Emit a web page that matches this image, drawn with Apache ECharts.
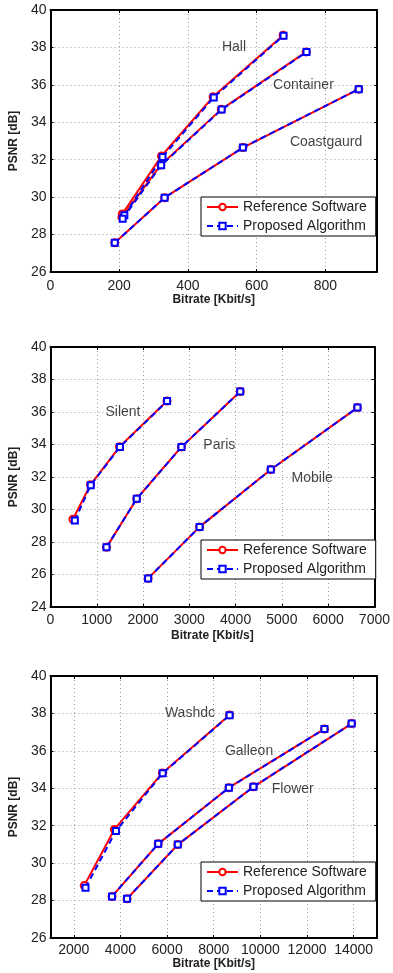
<!DOCTYPE html>
<html>
<head>
<meta charset="utf-8">
<title>PSNR vs Bitrate</title>
<script src="https://cdn.jsdelivr.net/npm/echarts@6.0.0/dist/echarts.min.js"></script>
<style>
  html, body { margin: 0; padding: 0; background: #fff; }
  #chart { width: 393px; height: 973px; }
</style>
</head>
<body>
<div id="chart"></div>
<script>
// ---- 数据: 上图 (Hall / Container / Coastgaurd) ----
const hallRateRef = [209, 323, 473, 677]
const hallPsnrRef = [29.1, 32.2, 35.36, 38.65]
const hallRateProp = [215, 326, 475, 678]
const hallPsnrProp = [29.03, 32.15, 35.33, 38.63]
const containerRateRef = [208, 321, 497, 744]
const containerPsnrRef = [28.93, 31.72, 34.69, 37.76]
const containerRateProp = [210, 322, 498, 745]
const containerPsnrProp = [28.85, 31.7, 34.68, 37.75]
const coastRate = [187, 332, 560, 897]
const coastPsnr = [27.56, 29.97, 32.65, 35.77]

// ---- 数据: 中图 (Silent / Paris / Mobile) ----
const silentRateRef = [485, 865, 1491, 2518]
const silentPsnrRef = [29.4, 31.52, 33.86, 36.68]
const silentRateProp = [527, 870, 1500, 2520]
const silentPsnrProp = [29.32, 31.5, 33.84, 36.67]
const parisRate = [1210, 1864, 2830, 4100]
const parisPsnr = [27.67, 30.66, 33.85, 37.26]
const mobileRate = [2110, 3222, 4762, 6633]
const mobilePsnr = [25.76, 28.93, 32.46, 36.27]

// ---- 数据: 下图 (Washdc / Galleon / Flower) ----
const washRateRef = [2446, 3740, 5800, 8677]
const washPsnrRef = [28.8, 31.8, 34.82, 37.92]
const washRateProp = [2503, 3808, 5810, 8680]
const washPsnrProp = [28.69, 31.72, 34.8, 37.9]
const galleonRate = [3639, 5619, 8650, 12747]
const galleonPsnr = [28.22, 31.03, 34.03, 37.17]
const flowerRate = [4284, 6460, 9703, 13914]
const flowerPsnr = [28.1, 30.99, 34.08, 37.46]

// 序列名称标注 [x, y, 名称]
const labels1 = [[534, 38.0, 'Hall'], [736, 36.0, 'Container'], [802, 32.96, 'Coastgaurd']]
const labels2 = [[1566, 35.97, 'Silent'], [3648, 33.96, 'Paris'], [5655, 31.95, 'Mobile']]
const labels3 = [[6979, 37.99, 'Washdc'], [9514, 35.98, 'Galleon'], [11387, 33.95, 'Flower']]

// 坐标轴刻度
const xTicks1 = [0, 200, 400, 600, 800]
const xTicks2 = [0, 1000, 2000, 3000, 4000, 5000, 6000, 7000]
const xTicks3 = [2000, 4000, 6000, 8000, 10000, 12000, 14000]
const xRanges = [[0, 950], [0, 7000], [1000, 15000]]
const yRanges = [[26, 40], [24, 40], [26, 40]]
const xTickLists = [xTicks1, xTicks2, xTicks3]

const REF_NAME = 'Reference Software'
const PROP_NAME = 'Proposed Algorithm'
const FONT = '"Liberation Sans", Arial, Helvetica, sans-serif'

// 布局
const gridTops = [10, 347, 676]
const gridHeights = [262, 260, 262]
const legendTops = [197, 540, 862]
const xNameGaps = [20, 23, 19]
const xLabelMargins = [7, 6, 5]

const zip = (xs, ys) => xs.map((x, i) => [x, ys[i]])

const refSeries = (idx, rate, psnr) => ({
  name: REF_NAME,
  type: 'line',
  xAxisIndex: idx,
  yAxisIndex: idx,
  data: zip(rate, psnr),
  symbol: 'emptyCircle',
  symbolSize: 7,
  lineStyle: { color: '#ff0000', width: 2 },
  itemStyle: { color: '#ff0000', borderWidth: 1.5 },
  z: 2
})

const propSeries = (idx, rate, psnr) => ({
  name: PROP_NAME,
  type: 'line',
  xAxisIndex: idx,
  yAxisIndex: idx,
  data: zip(rate, psnr),
  symbol: 'emptyRect',
  symbolSize: 6,
  lineStyle: { color: '#0000ff', width: 2, type: [6, 4] },
  itemStyle: { color: '#0000ff', borderWidth: 2 },
  z: 3
})

const labelSeries = (idx, items) => ({
  type: 'scatter',
  xAxisIndex: idx,
  yAxisIndex: idx,
  symbolSize: 0,
  silent: true,
  z: 4,
  label: {
    show: true,
    position: 'inside',
    formatter: '{b}',
    color: '#111',
    fontSize: 14,
    fontFamily: FONT
  },
  data: items.map(d => ({ name: d[2], value: [d[0], d[1]] }))
})

const axisLineStyle = { show: true, onZero: false, lineStyle: { color: '#000', width: 2 } }
const gridLineStyle = { show: true, lineStyle: { color: '#999', width: 1, type: [1, 3] } }
const plainNumber = v => String(v)

const xAxes = []
const yAxes = []
for (let i = 0; i < 3; i++) {
  xAxes.push({
    type: 'value',
    gridIndex: i,
    position: 'bottom',
    min: xRanges[i][0],
    max: xRanges[i][1],
    name: 'Bitrate [Kbit/s]',
    nameLocation: 'middle',
    nameGap: xNameGaps[i],
    nameTextStyle: { fontSize: 12, fontWeight: 'bold', color: '#222', fontFamily: FONT },
    axisLine: axisLineStyle,
    axisTick: { show: true, inside: true, length: 3, customValues: xTickLists[i], lineStyle: { color: '#000' } },
    axisLabel: { customValues: xTickLists[i], formatter: plainNumber, margin: xLabelMargins[i], fontSize: 14, color: '#222', fontFamily: FONT },
    splitLine: gridLineStyle
  })
  yAxes.push({
    type: 'value',
    gridIndex: i,
    position: 'left',
    min: yRanges[i][0],
    max: yRanges[i][1],
    interval: 2,
    name: 'PSNR [dB]',
    nameLocation: 'middle',
    nameGap: 26,
    nameTextStyle: { fontSize: 12, fontWeight: 'bold', color: '#222', fontFamily: FONT },
    axisLine: axisLineStyle,
    axisTick: { show: true, inside: true, length: 3, lineStyle: { color: '#000' } },
    axisLabel: { formatter: plainNumber, margin: 4, fontSize: 14, color: '#222', fontFamily: FONT },
    splitLine: gridLineStyle
  })
}
// 上边和右边的框线
for (let i = 0; i < 3; i++) {
  xAxes.push({
    type: 'value',
    gridIndex: i,
    position: 'top',
    min: xRanges[i][0],
    max: xRanges[i][1],
    axisLine: axisLineStyle,
    axisTick: { show: true, inside: true, length: 3, customValues: xTickLists[i], lineStyle: { color: '#000' } },
    axisLabel: { show: false },
    splitLine: { show: false }
  })
  yAxes.push({
    type: 'value',
    gridIndex: i,
    position: 'right',
    min: yRanges[i][0],
    max: yRanges[i][1],
    interval: 2,
    axisLine: axisLineStyle,
    axisTick: { show: true, inside: true, length: 3, lineStyle: { color: '#000' } },
    axisLabel: { show: false },
    splitLine: { show: false }
  })
}

const series = [
  refSeries(0, hallRateRef, hallPsnrRef),
  refSeries(0, containerRateRef, containerPsnrRef),
  refSeries(0, coastRate, coastPsnr),
  propSeries(0, hallRateProp, hallPsnrProp),
  propSeries(0, containerRateProp, containerPsnrProp),
  propSeries(0, coastRate, coastPsnr),
  labelSeries(0, labels1),

  refSeries(1, silentRateRef, silentPsnrRef),
  refSeries(1, parisRate, parisPsnr),
  refSeries(1, mobileRate, mobilePsnr),
  propSeries(1, silentRateProp, silentPsnrProp),
  propSeries(1, parisRate, parisPsnr),
  propSeries(1, mobileRate, mobilePsnr),
  labelSeries(1, labels2),

  refSeries(2, washRateRef, washPsnrRef),
  refSeries(2, galleonRate, galleonPsnr),
  refSeries(2, flowerRate, flowerPsnr),
  propSeries(2, washRateProp, washPsnrProp),
  propSeries(2, galleonRate, galleonPsnr),
  propSeries(2, flowerRate, flowerPsnr),
  labelSeries(2, labels3)
]

const chart = echarts.init(document.getElementById('chart'))
chart.setOption({
  animation: false,
  backgroundColor: '#fff',
  textStyle: { fontFamily: FONT },
  grid: gridTops.map((t, i) => ({ left: 45, width: 332, top: t, height: gridHeights[i], show: false })),
  xAxis: xAxes,
  yAxis: yAxes,
  legend: legendTops.map(t => ({
    data: [REF_NAME, PROP_NAME],
    orient: 'vertical',
    left: 201,
    top: t,
    itemWidth: 31,
    itemHeight: 8,
    itemGap: 5,
    padding: [3, 9, 3, 5],
    borderColor: '#000',
    borderWidth: 1,
    backgroundColor: '#fff',
    selectedMode: false,
    textStyle: { fontSize: 14, color: '#222', fontFamily: FONT }
  })),
  series
})
</script>
</body>
</html>
